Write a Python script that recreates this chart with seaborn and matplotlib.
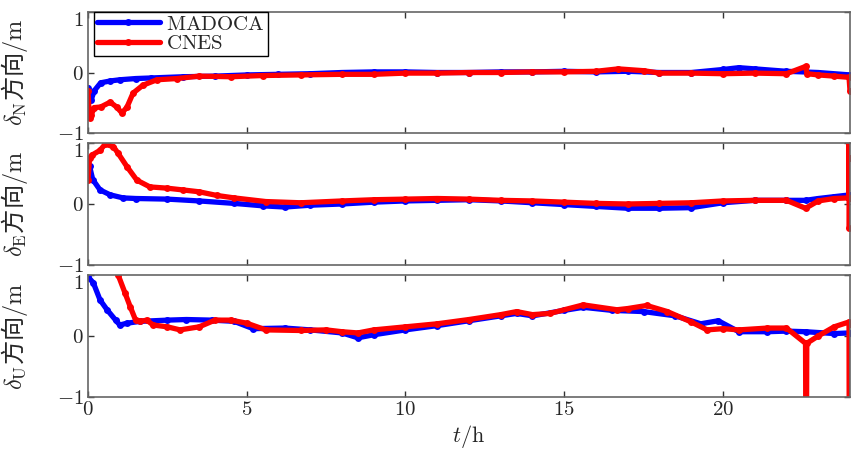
import numpy as np
import pandas as pd
import matplotlib
matplotlib.use("Agg")
import matplotlib.pyplot as plt
import seaborn as sns

# ---- data (t in hours, error in m) ----
t_n_mad = [0, 0.05, 0.1, 0.2, 0.4, 0.7, 1.0, 1.5, 2, 3, 4, 5, 6, 7, 8, 9, 10, 11, 12, 13, 14, 15,
           16, 17, 18, 19, 20, 20.5, 21, 22, 23, 24]
n_mad = [-0.25, -0.4, -0.45, -0.3, -0.17, -0.14, -0.12, -0.1, -0.09, -0.07, -0.06, -0.04, -0.03,
         -0.02, 0.0, 0.01, 0.01, 0.0, 0.0, 0.01, 0.01, 0.02, 0.01, 0.02, 0.0, 0.0, 0.05, 0.08, 0.06,
         0.02, 0.0, -0.04]
t_n_cnes = [0, 0.03, 0.06, 0.1, 0.2, 0.4, 0.7, 0.9, 1.07, 1.23, 1.42, 1.73, 2.17, 2.8, 3.5, 4.5,
            5.5, 6.7, 8, 9, 10, 11, 12, 13, 14, 15, 16, 16.7, 17.5, 18, 19, 20, 21, 22, 22.6,
            22.65, 23, 23.5, 23.97, 24]
n_cnes = [-0.3, -0.6, -0.75, -0.7, -0.58, -0.57, -0.49, -0.57, -0.67, -0.57, -0.34, -0.21, -0.12,
          -0.1, -0.06, -0.07, -0.05, -0.04, -0.03, -0.03, -0.01, -0.01, 0.0, 0.0, 0.01, 0.01, 0.02,
          0.06, 0.03, -0.01, -0.01, -0.02, -0.01, -0.02, 0.1, -0.02, -0.04, -0.06, -0.08, -0.3]

t_e_mad = [0, 0.05, 0.15, 0.38, 0.7, 1.1, 1.5, 2.5, 3.5, 4.6, 5.5, 6.2, 7, 8, 9, 10, 11, 12, 13,
           14, 15, 16, 17, 18, 19, 20, 21, 22, 22.6, 23, 23.5, 24]
e_mad = [0.45, 0.62, 0.4, 0.23, 0.15, 0.1, 0.09, 0.08, 0.05, 0.01, -0.03, -0.05, -0.02, 0.0, 0.03,
         0.05, 0.06, 0.07, 0.05, 0.02, -0.01, -0.04, -0.07, -0.07, -0.06, 0.02, 0.06, 0.06, 0.06,
         0.09, 0.12, 0.15]
t_e_cnes = [0, 0.05, 0.12, 0.38, 0.54, 0.8, 0.95, 1.23, 1.54, 1.95, 2.48, 3.0, 3.5, 4.06, 4.6,
            5.6, 6.7, 8, 9, 10, 11, 12, 13, 14, 15, 16, 17, 18, 19, 20, 21, 22, 22.6, 23, 23.5,
            23.96, 23.97, 23.98, 23.99, 24]
e_cnes = [0.4, 0.75, 0.8, 0.88, 0.98, 0.94, 0.83, 0.61, 0.39, 0.28, 0.26, 0.23, 0.2, 0.14, 0.1,
          0.04, 0.02, 0.05, 0.07, 0.08, 0.09, 0.08, 0.06, 0.05, 0.03, 0.01, 0.0, 0.01, 0.02, 0.05,
          0.06, 0.06, -0.07, 0.05, 0.09, 0.1, 1.5, -0.4, 0.75, 0.1]

t_u_mad = [0, 0.17, 0.38, 0.6, 0.87, 1.0, 1.23, 1.65, 2.5, 3.1, 3.9, 4.6, 5.2, 6.2, 7, 8, 8.5, 9,
           10, 11, 12, 13, 13.5, 14, 15, 15.6, 16.5, 17.5, 18.5, 19.3, 19.85, 20.5, 21.4, 22,
           22.6, 23.5, 24]
u_mad = [0.97, 0.87, 0.59, 0.43, 0.26, 0.18, 0.21, 0.24, 0.26, 0.27, 0.26, 0.24, 0.12, 0.13, 0.1,
         0.05, -0.03, 0.02, 0.1, 0.17, 0.25, 0.33, 0.37, 0.33, 0.42, 0.47, 0.42, 0.4, 0.33, 0.2,
         0.25, 0.07, 0.07, 0.08, 0.07, 0.04, 0.05]
t_u_cnes = [0.5, 0.95, 1.17, 1.33, 1.5, 1.65, 1.85, 2.05, 2.5, 2.9, 3.5, 4.0, 4.5, 5.0, 5.6, 6.7,
            7.5, 8, 8.5, 9, 10, 11, 12, 13, 13.5, 14, 14.55, 15.6, 16.66, 17.0, 17.6, 18.25, 19,
            19.5, 20, 20.5, 21.4, 22, 22.6, 22.62, 22.64, 23, 23.5, 23.97, 23.98, 24]
u_cnes = [2.5, 1.0, 0.7, 0.48, 0.26, 0.24, 0.26, 0.18, 0.15, 0.1, 0.15, 0.26, 0.26, 0.21, 0.1,
          0.09, 0.1, 0.07, 0.05, 0.1, 0.15, 0.2, 0.27, 0.35, 0.4, 0.35, 0.37, 0.51, 0.43, 0.45,
          0.5, 0.4, 0.23, 0.1, 0.12, 0.1, 0.13, 0.13, -0.12, -3, -0.12, 0.0, 0.15, 0.23, -3, 0.2]

comps = ["N", "E", "U"]
x_ticks = [0, 5, 10, 15, 20]
y_ticks = [-1, 0, 1]

sns.set_theme(style="ticks")
plt.rcParams["mathtext.fontset"] = "cm"
plt.rcParams["font.family"] = ["cmr10", "Noto Sans CJK SC", "DejaVu Sans"]
plt.rcParams["axes.unicode_minus"] = False

fig = plt.figure(figsize=(8.51, 4.58), dpi=100)
boxes = [(0.1034, 0.7096, 0.8954, 0.2642),
         (0.1034, 0.4214, 0.8954, 0.2664),
         (0.1034, 0.1332, 0.8954, 0.2664)]
series = [(t_n_mad, n_mad, t_n_cnes, n_cnes),
          (t_e_mad, e_mad, t_e_cnes, e_cnes),
          (t_u_mad, u_mad, t_u_cnes, u_cnes)]

for i, (box, (ta, va, tb, vb)) in enumerate(zip(boxes, series)):
    ax = fig.add_axes(box)
    sns.lineplot(x=ta, y=va, ax=ax, color="#0000FF", marker="o", markersize=5,
                 markeredgewidth=0, linewidth=3.8, estimator=None, sort=False,
                 label=r"$\mathrm{MADOCA}$")
    sns.lineplot(x=tb, y=vb, ax=ax, color="#FF0000", marker="o", markersize=5,
                 markeredgewidth=0, linewidth=3.8, estimator=None, sort=False,
                 label=r"$\mathrm{CNES}$")
    ax.set_xlim(0, 24)
    ax.set_ylim(-1, 1)
    ax.set_xticks(x_ticks)
    ax.set_yticks(y_ticks)
    ylabs = ax.set_yticklabels([r"$-1$", r"$0$", r"$1$"], fontsize=15)
    # top label sits just under the frame edge, as in the source figure
    ylabs[2].set_verticalalignment("top")
    if i == 2:
        ax.set_xticklabels([r"$%d$" % v for v in x_ticks], fontsize=15)
        ax.set_xlabel(r"$t/\mathrm{h}$", fontsize=16, labelpad=3)
    else:
        ax.set_xticklabels([])
        ax.set_xlabel("")
    ax.tick_params(direction="in", length=4, width=1, top=True, right=True,
                   color="0.2", pad=3)
    for s in ax.spines.values():
        s.set_color("0.4")
        s.set_linewidth(1.2)
    ax.set_ylabel(r"$\delta_{\mathrm{%s}}$方向$/\mathrm{m}$" % comps[i], fontsize=17.5,
                  family=["Noto Sans CJK SC", "DejaVu Sans"])
    ax.yaxis.set_label_coords(-0.076, 0.5)
    if i == 0:
        leg = ax.legend(loc="upper left", bbox_to_anchor=(0.008, 1.0), borderaxespad=0,
                        fontsize=15, frameon=True, fancybox=False, edgecolor="black",
                        framealpha=1, handlelength=3.0, labelspacing=0.05, borderpad=0.15,
                        handletextpad=0.3)
        leg.get_frame().set_linewidth(1.0)
    else:
        ax.get_legend().remove()

fig.savefig("out.png", dpi=100)
